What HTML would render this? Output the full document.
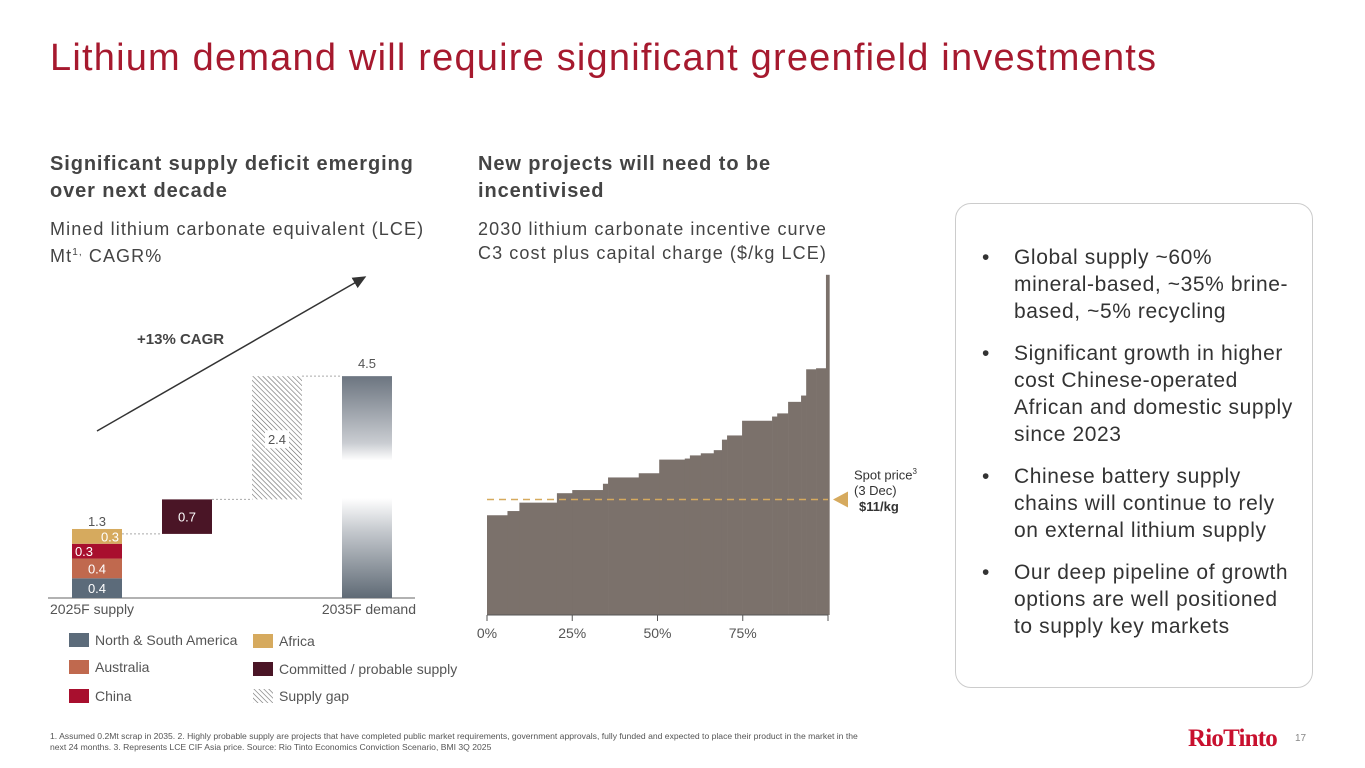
<!DOCTYPE html>
<html><head><meta charset="utf-8"><style>
body{margin:0;width:1365px;height:768px;background:#fff;font-family:"Liberation Sans",sans-serif;position:relative;overflow:hidden;color:#333}
.a{position:absolute;white-space:nowrap}
h1{position:absolute;left:50px;top:37px;margin:0;font-weight:normal;font-size:38px;color:#A6192E;letter-spacing:1.2px;white-space:nowrap}
.sub{font-weight:bold;font-size:20px;color:#444;line-height:27px;letter-spacing:0.9px}
.desc{font-size:18px;color:#444;line-height:24px;letter-spacing:1.1px}
#box{position:absolute;left:955px;top:203px;width:356px;height:483px;border:1.5px solid #ccc;border-radius:16px}
#box ul{margin:0;padding:0;list-style:none;position:absolute;left:26px;top:40px;width:330px}
#box li{position:relative;padding-left:32px;font-size:21px;line-height:27px;color:#333;margin-bottom:15px;letter-spacing:0.6px;white-space:nowrap}
#box li:before{content:"•";position:absolute;left:0;top:0}
.foot{font-size:8.6px;color:#555;line-height:11px}
</style></head><body>
<h1>Lithium demand will require significant greenfield investments</h1>
<div class="a sub" style="left:50px;top:151px">Significant supply deficit emerging<br>over next decade</div>
<div class="a desc" style="left:50px;top:217px">Mined lithium carbonate equivalent (LCE)<br>Mt<sup style="font-size:10px">1,</sup> CAGR%</div>
<div class="a sub" style="left:478px;top:151px">New projects will need to be<br>incentivised</div>
<div class="a desc" style="left:478px;top:217px">2030 lithium carbonate incentive curve<br>C3 cost plus capital charge ($/kg LCE)</div>

<svg class="a" style="left:0;top:0" width="950" height="720" id="charts">
<defs>
<pattern id="hatch" width="3.5" height="3.5" patternUnits="userSpaceOnUse" patternTransform="rotate(-45)"><line x1="0" y1="0" x2="0" y2="3.5" stroke="#666" stroke-width="1.2"/></pattern>
<linearGradient id="dg" x1="0" y1="0" x2="0" y2="1"><stop offset="0" stop-color="#6c7580"/><stop offset="0.3" stop-color="#c9ccd1"/><stop offset="0.38" stop-color="#fff"/><stop offset="0.55" stop-color="#fff"/><stop offset="0.7" stop-color="#c4c8cd"/><stop offset="1" stop-color="#5f6a75"/></linearGradient>
<marker id="arr" markerWidth="10" markerHeight="10" refX="8" refY="5" orient="auto"><path d="M0,1 L9,5 L0,9 z" fill="#333"/></marker>
</defs>
<g id="wf"></g>
<g id="ic"></g>
</svg>

<div class="a" style="left:854px;top:464px;font-size:13px;color:#333;line-height:16px">Spot price<sup style="font-size:8px">3</sup><br>(3 Dec)<br><b style="margin-left:5px">$11/kg</b></div>

<div id="box"><ul>
<li>Global supply ~60%<br>mineral-based, ~35% brine-<br>based, ~5% recycling</li>
<li>Significant growth in higher<br>cost Chinese-operated<br>African and domestic supply<br>since 2023</li>
<li>Chinese battery supply<br>chains will continue to rely<br>on external lithium supply</li>
<li>Our deep pipeline of growth<br>options are well positioned<br>to supply key markets</li>
</ul></div>

<div class="a foot" style="left:50px;top:731px">1. Assumed 0.2Mt scrap in 2035. 2. Highly probable supply are projects that have completed public market requirements, government approvals, fully funded and expected to place their product in the market in the<br>next 24 months. 3. Represents LCE CIF Asia price. Source: Rio Tinto Economics Conviction Scenario, BMI 3Q 2025</div>
<div class="a" style="left:1188px;top:725px;font-family:'Liberation Serif',serif;font-size:25px;font-weight:bold;color:#C8102E;letter-spacing:-0.8px">RioTinto</div>
<div class="a" style="left:1295px;top:733px;font-size:10px;color:#888">17</div>

<script>
const NS="http://www.w3.org/2000/svg";
// Waterfall data
const regions=["North & South America","Australia","China","Africa"];
const regionVals=[0.4,0.4,0.3,0.3];
const regionColors=["#5c6b7a","#c0694e","#a80f2e","#d6aa5e"];
const supplyTotal=1.3;
const committed=0.7;
const gap=2.4;
const demand=4.5;
// Incentive curve data: capacity share (%) and cost ($/kg)
const shares=[6,3.5,11,4.5,9,1.5,9,6,7.5,1.5,3.2,3.8,2.4,1.5,4.4,8.8,1.5,3.2,3.8,1.5,2.9,2.9,1];
const costs=[9.5,9.9,10.7,11.6,11.9,12.5,13.1,13.5,14.8,14.9,15.2,15.4,15.7,16.7,17.1,18.5,18.9,19.2,20.3,20.9,23.4,23.5,32.4];
const spot=11;
const xTicks=[0,25,50,75];

function el(p,t,a,txt){const e=document.createElementNS(NS,t);for(const k in a)e.setAttribute(k,a[k]);if(txt!=null)e.textContent=txt;p.appendChild(e);return e;}
const wf=document.getElementById('wf');
const base=598, ppu=49.3;
const wy=v=>base-v*ppu;
let e=el(wf,'line',{x1:48,x2:415,y1:base,y2:base,stroke:'#999','stroke-width':1.5});

let cum=0;
regionVals.forEach((v,i)=>{
  const r=el(wf,'rect',{x:72,y:wy(cum+v),width:50,height:v*ppu,fill:regionColors[i]});
  
  const tx=el(wf,'text',{x:i==3?110:(i==2?84:97),y:wy(cum+v/2)+5,'font-size':13,fill:'#fff','text-anchor':'middle'},v.toFixed(1));
  
  cum+=v;
});
e=el(wf,'text',{x:97,y:wy(supplyTotal)-8,'font-size':13,fill:'#555','text-anchor':'middle'},supplyTotal.toFixed(1));

e=el(wf,'line',{x1:122,x2:162,y1:wy(supplyTotal),y2:wy(supplyTotal),stroke:'#aaa','stroke-dasharray':'2,2'});

e=el(wf,'rect',{x:162,y:wy(supplyTotal+committed),width:50,height:committed*ppu,fill:'#4a1526'});

e=el(wf,'text',{x:187,y:wy(supplyTotal+committed/2)+5,'font-size':13,fill:'#fff','text-anchor':'middle'},committed.toFixed(1));

e=el(wf,'line',{x1:212,x2:252,y1:wy(supplyTotal+committed),y2:wy(supplyTotal+committed),stroke:'#aaa','stroke-dasharray':'2,2'});

const g0=supplyTotal+committed;
e=el(wf,'rect',{x:252,y:wy(demand),width:50,height:(demand-g0)*ppu,fill:'url(#hatch)'});

e=el(wf,'rect',{x:265,y:wy(g0+gap/2)-10,width:24,height:18,fill:'#fff'});

e=el(wf,'text',{x:277,y:wy(g0+gap/2)+4,'font-size':13,fill:'#555','text-anchor':'middle'},gap.toFixed(1));

e=el(wf,'line',{x1:302,x2:342,y1:wy(demand),y2:wy(demand),stroke:'#aaa','stroke-dasharray':'2,2'});

e=el(wf,'rect',{x:342,y:wy(demand),width:50,height:demand*ppu,fill:'url(#dg)'});

e=el(wf,'text',{x:367,y:wy(demand)-8,'font-size':13,fill:'#555','text-anchor':'middle'},demand.toFixed(1));

e=el(wf,'text',{x:50,y:614,'font-size':14,fill:'#555'},'2025F supply');

e=el(wf,'text',{x:416,y:614,'font-size':14,fill:'#555','text-anchor':'end'},'2035F demand');

e=el(wf,'line',{x1:97,y1:431,x2:365,y2:277,stroke:'#333','stroke-width':1.5,'marker-end':'url(#arr)'});

e=el(wf,'text',{x:137,y:344,'font-size':15,'font-weight':'bold',fill:'#444'},'+13% CAGR');

const legend=[["North & South America","#5c6b7a",69,640],["Australia","#c0694e",69,667],["China","#a80f2e",69,696],["Africa","#d6aa5e",253,641],["Committed / probable supply","#4a1526",253,669],["Supply gap","url(#hatch)",253,696]];
legend.forEach(l=>{
  const r=el(wf,'rect',{x:l[2],y:l[3]-7,width:20,height:14,fill:l[1]});
  
  const t=el(wf,'text',{x:l[2]+26,y:l[3]+5,'font-size':14,fill:'#555'},l[0]);
  
});
const ic=document.getElementById('ic');
const x0=487,x1=828,ib=615,ppd=10.5;
const ix=p=>x0+p/100*(x1-x0);
const iy=v=>ib-v*ppd;
let acc=0;
shares.forEach((s,i)=>{
  const r=el(ic,'rect',{x:ix(acc),y:iy(costs[i]),width:ix(acc+s)-ix(acc)+0.3,height:costs[i]*ppd,fill:'#7b716b'});
  
  acc+=s;
});
e=el(ic,'line',{x1:x0,x2:x1,y1:iy(spot),y2:iy(spot),stroke:'#d6aa5e','stroke-width':1.5,'stroke-dasharray':'7,5'});

e=el(ic,'path',{d:`M833,${iy(spot)} L848,${iy(spot)-8} L848,${iy(spot)+8} z`,fill:'#d6aa5e'});

e=el(ic,'line',{x1:x0,x2:x1,y1:ib,y2:ib,stroke:'#555','stroke-width':1});

xTicks.concat([100]).forEach(t=>{
  const l=el(ic,'line',{x1:ix(t),x2:ix(t),y1:ib,y2:ib+6,stroke:'#555'});
  
});
xTicks.forEach(t=>{
  const tx=el(ic,'text',{x:ix(t),y:638,'font-size':14,fill:'#555','text-anchor':'middle'},t+'%');
  
});
</script>
</body></html>
